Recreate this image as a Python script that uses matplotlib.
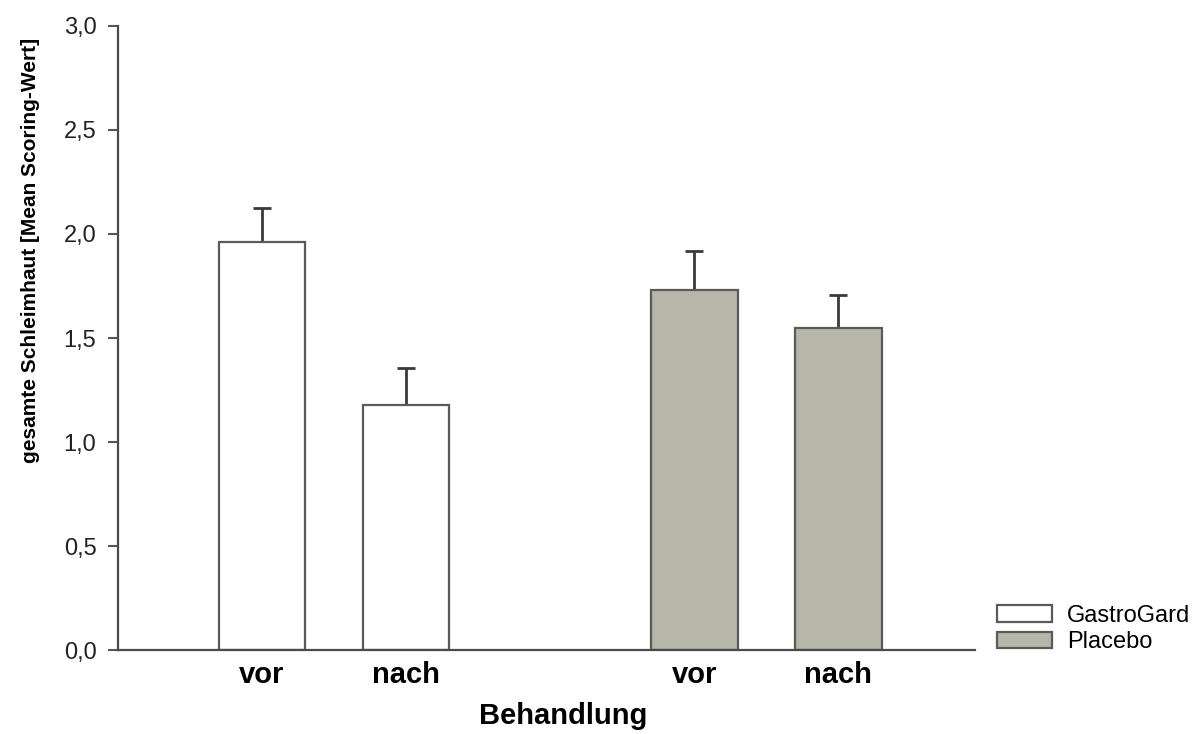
import matplotlib.pyplot as plt

plt.rcParams['font.family'] = ['Liberation Sans', 'DejaVu Sans']

# data
groups = ['GastroGard', 'Placebo']
labels = ['vor', 'nach', 'vor', 'nach']
gastro_mean = [1.96, 1.18]
gastro_err = [0.165, 0.175]
placebo_mean = [1.73, 1.55]
placebo_err = [0.19, 0.155]
yticks = [0.0, 0.5, 1.0, 1.5, 2.0, 2.5, 3.0]

fig = plt.figure(figsize=(12.04, 7.34), dpi=100)
ax = fig.add_axes([0.098, 0.1144, 0.712, 0.8502])

edge = '#5a5a5a'
pos_g = [1, 2]
pos_p = [4, 5]
ax.bar(pos_g, gastro_mean, width=0.6, color='white', edgecolor=edge, linewidth=1.6,
       label=groups[0], zorder=2)
ax.bar(pos_p, placebo_mean, width=0.6, color='#b6b6a9', edgecolor=edge, linewidth=1.6,
       label=groups[1], zorder=2)

# upper error bars only, no cap at the bar top
for pos, m, e in [(pos_g, gastro_mean, gastro_err), (pos_p, placebo_mean, placebo_err)]:
    eb = ax.errorbar(pos, m, yerr=[[0] * len(e), e], fmt='none', ecolor='#3a3a3a',
                     elinewidth=2, capsize=6.5, capthick=2, zorder=1)
    eb[1][0].set_visible(False)

ax.set_xlim(0, 5.95)
ax.set_ylim(0, 3.0)
ax.set_yticks(yticks)
ax.set_yticklabels([f'{v:.1f}'.replace('.', ',') for v in yticks], fontsize=17, color='#222222')
ax.set_xticks(pos_g + pos_p)
ax.set_xticklabels(labels, fontsize=21, fontweight='bold')
ax.tick_params(axis='x', length=0, pad=8)
ax.tick_params(axis='y', length=7.5, width=1.5, color='#555555', pad=8, direction='out')

for s in ['top', 'right']:
    ax.spines[s].set_visible(False)
for s in ['left', 'bottom']:
    ax.spines[s].set_color('#4a4a4a')
    ax.spines[s].set_linewidth(1.6)

ax.set_xlabel('Behandlung', fontsize=21, fontweight='bold')
ax.xaxis.set_label_coords(0.519, -0.083)
ax.set_ylabel('gesamte Schleimhaut [Mean Scoring-Wert]', fontsize=15, fontweight='bold')
ax.yaxis.set_label_coords(-0.091, 0.64)

fig.legend(loc='lower left', bbox_to_anchor=(0.828, 0.11), frameon=False, fontsize=17,
           handlelength=2.33, handleheight=0.7, handletextpad=0.64, labelspacing=0.2,
           borderaxespad=0, borderpad=0)

fig.savefig('out.png', dpi=100, facecolor='white')
